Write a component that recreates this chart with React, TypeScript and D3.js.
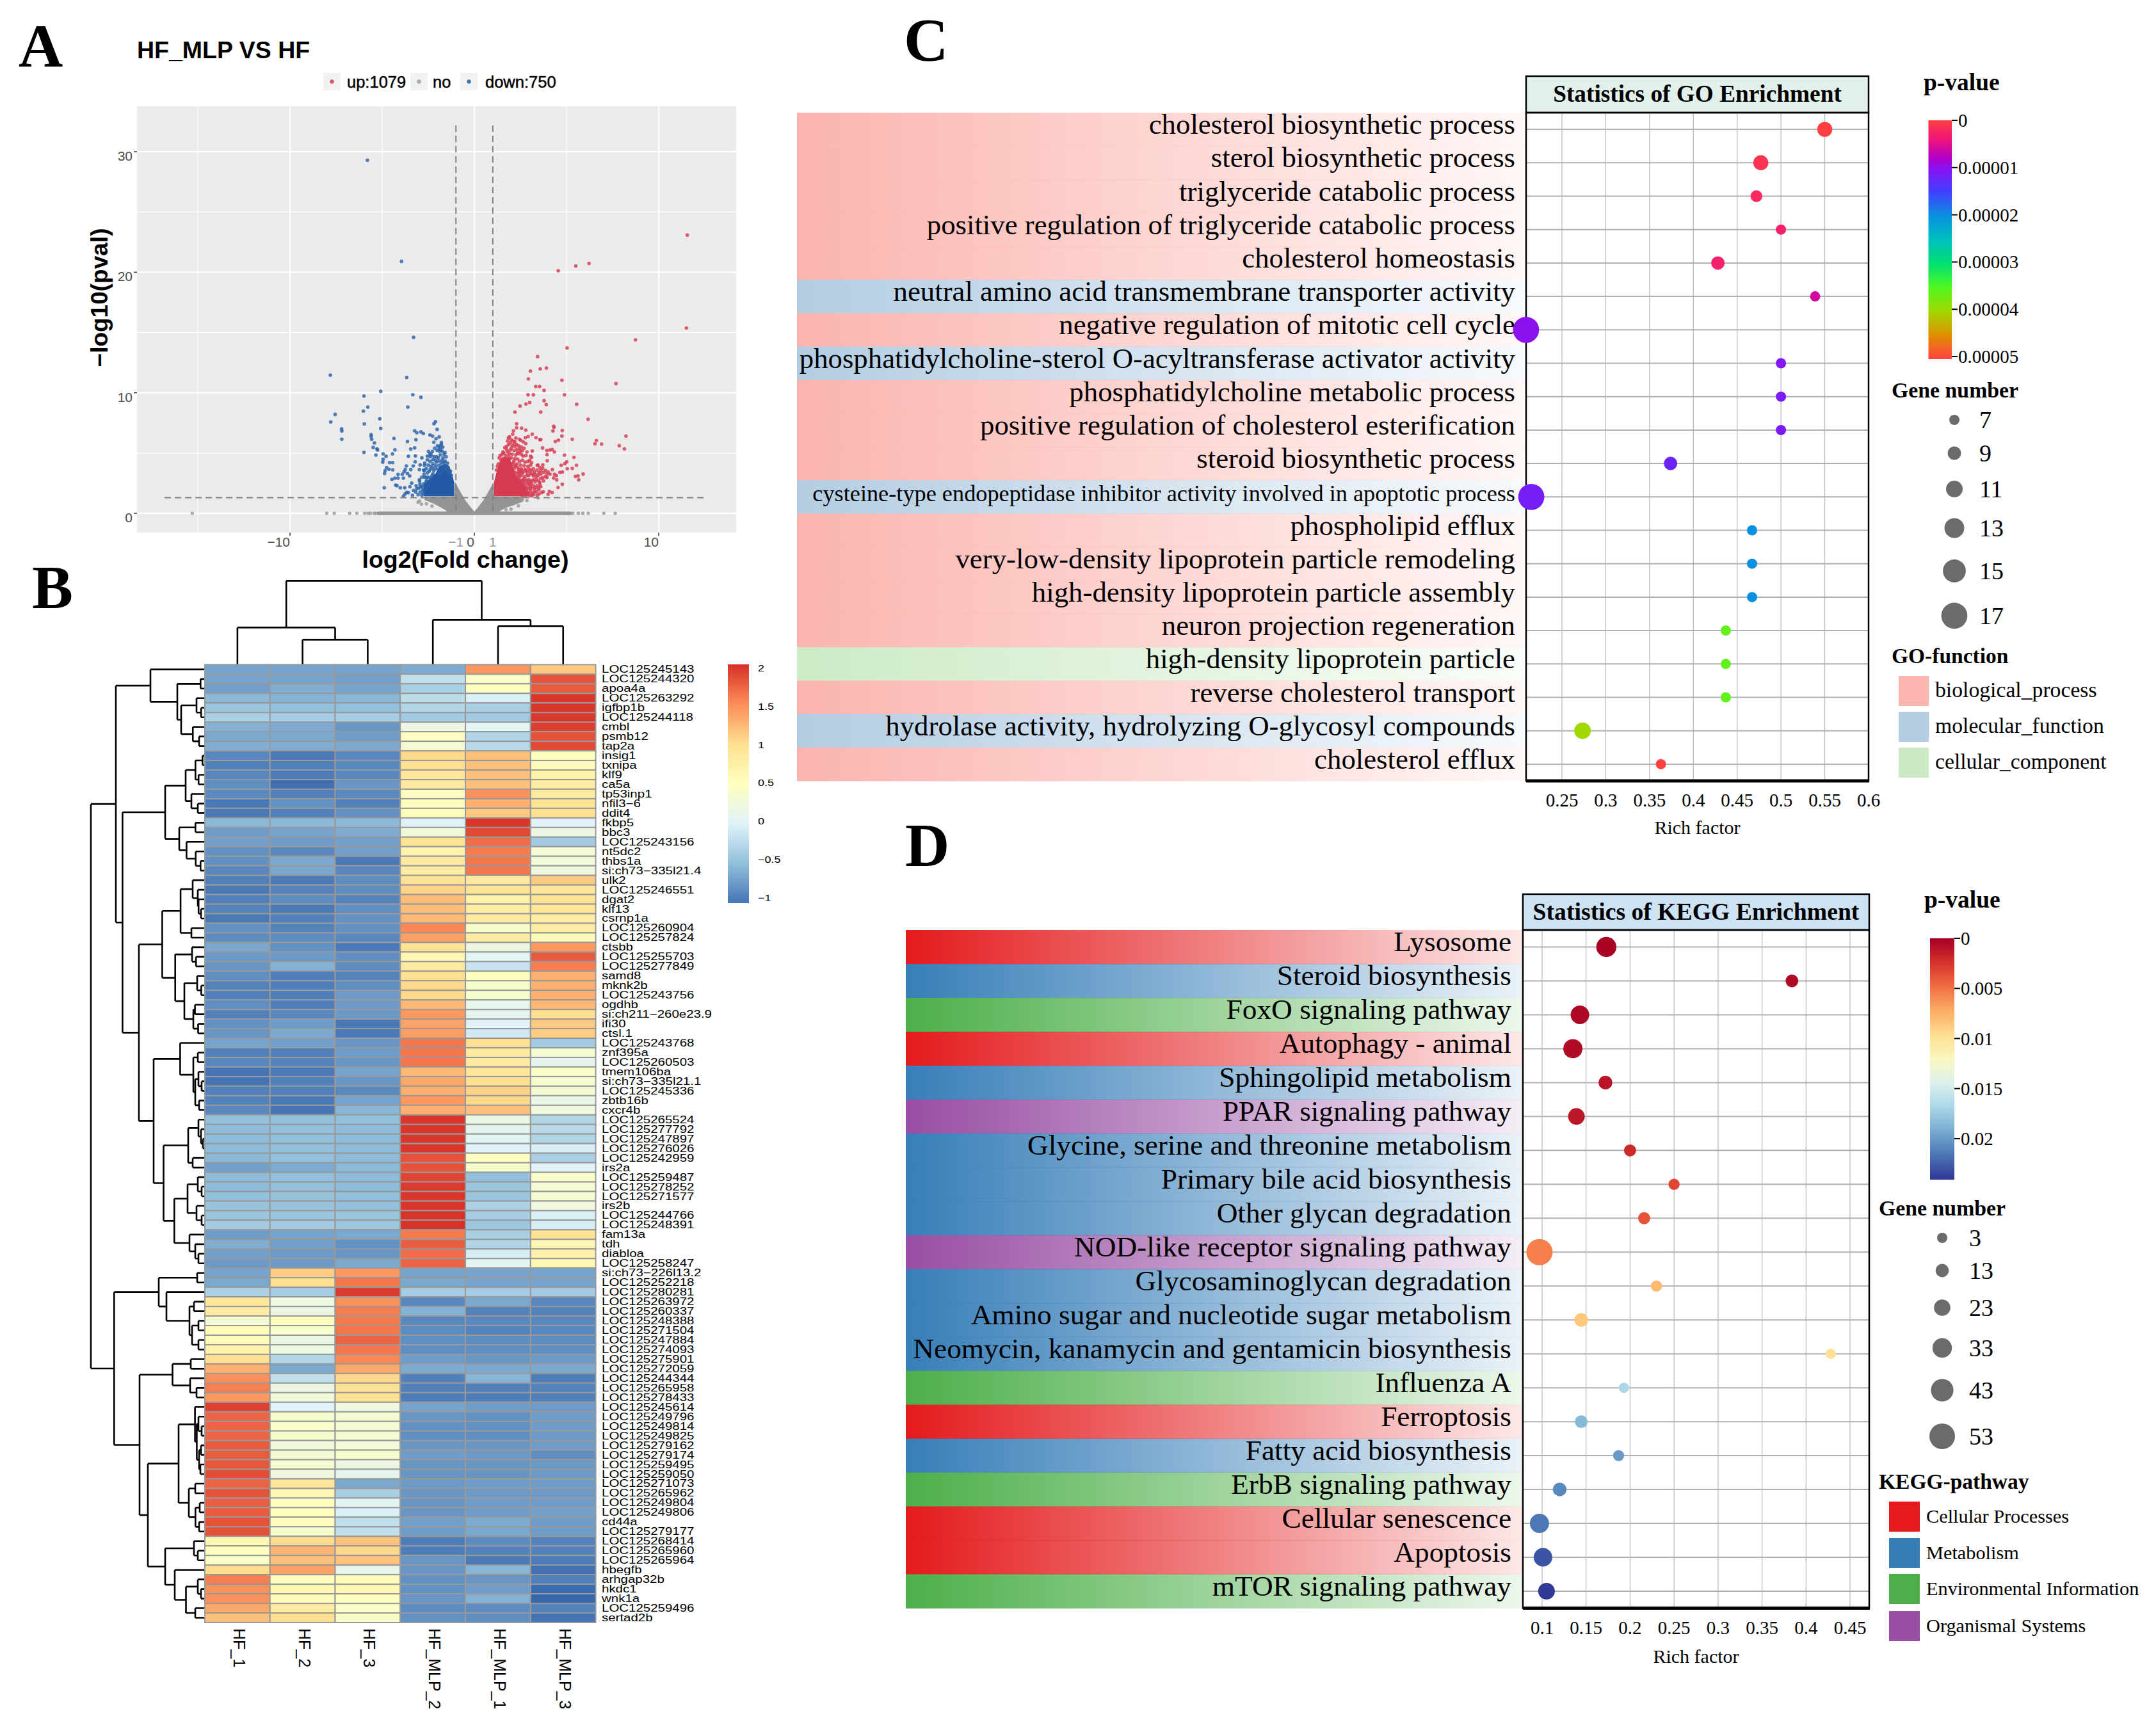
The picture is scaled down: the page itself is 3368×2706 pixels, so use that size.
import React from "react";
import * as d3 from "d3";

const SANS = "'Liberation Sans', Arial, sans-serif";
const SERIF = "'Liberation Serif', 'Times New Roman', serif";

// ---------- panel A: volcano ----------
const volcanoXTicks = [-10, 0, 10];
const volcanoXMinor = [-15, -5, 5];
const volcanoYTicks = [0, 10, 20, 30];
const volcanoYMinor = [5, 15, 25];

const downPoints: [number, number][] = [
  [-5.8, 29.3], [-3.95, 20.9], [-3.3, 14.6],
  [-7.81, 11.47], [-3.67, 11.27], [-5.08, 10.12], [-5.99, 9.73], [-3.34, 9.84], [-2.9, 9.63], [-5.78, 8.81],
  [-6.02, 8.48], [-3.61, 8.81], [-7.55, 8.21], [-7.79, 7.58], [-5.13, 7.84], [-5.97, 7.42], [-5.08, 7.04],
  [-7.2, 7.01], [-7.19, 6.83], [-7.19, 6.14], [-5.6, 6.53], [-5.6, 6.37], [-5.57, 6.14], [-5.42, 5.84],
  [-5.49, 5.47], [-5.29, 5.35], [-5.25, 5.26], [-5.99, 5.06], [-5.34, 4.83], [-4.95, 4.94], [-4.79, 4.73],
  [-4.95, 4.48], [-4.97, 4.25], [-4.6, 4.21], [-4.43, 4.21], [-4.44, 4.94], [-4.31, 5.27], [-4.36, 6.21],
  [-3.63, 5.96], [-3.17, 6.11], [-3.24, 6.85], [-3.12, 6.69], [-2.9, 6.76], [-2.77, 6.62], [-2.41, 6.5],
  [-2.27, 6.41], [-1.91, 6.34], [-2.08, 6.18], [-2.2, 5.89], [-2.19, 7.43], [-2.11, 7.61], [-2.02, 6.97],
  [-3.24, 5.43], [-3.45, 5.33], [-3.58, 4.73], [-3.2, 4.76], [-2.85, 4.6], [-3.21, 4.27], [-3.32, 3.93],
  [-3.69, 3.93], [-2.94, 4.02], [-2.69, 4.16], [-2.71, 3.98], [-4.76, 3.79], [-4.63, 3.65], [-4.43, 3.61],
  [-4.84, 3.54], [-4.87, 3.31], [-3.75, 3.63], [-3.81, 3.45], [-3.45, 3.63], [-3.91, 3.24], [-3.63, 3.31],
  [-3.51, 3.1], [-4.14, 3.22], [-4.31, 2.92], [-4.47, 2.81], [-4.14, 2.92], [-3.85, 2.92], [-4.89, 2.12],
  [-4.27, 2.34], [-4.2, 2.3], [-4.02, 2.12], [-3.78, 2.12], [-3.67, 1.73], [-3.58, 1.72], [-3.77, 1.59],
  [-3.85, 1.42], [-3.36, 1.5], [-3.16, 2.28], [-3.12, 2.04], [-3.18, 1.77], [-2.94, 1.77], [-2.89, 2.21],
  [-2.98, 2.78], [-2.97, 2.65], [-2.73, 3.24], [-2.69, 3.0], [-2.59, 2.74], [-2.39, 2.92], [-2.25, 3.27],
  [-2.39, 3.66], [-2.23, 3.77], [-2.98, 3.63], [-2.72, 3.54], [-2.61, 3.72], [-2.49, 5.13], [-2.41, 4.96],
  [-2.28, 5.13], [-2.06, 4.69], [-1.92, 4.34], [-2.06, 4.25], [-1.92, 3.98], [-1.79, 4.16], [-1.72, 3.81],
  [-1.53, 4.69], [-1.59, 5.04], [-1.83, 5.31], [-1.72, 5.49], [-1.79, 5.72], [-1.92, 5.4], [-2.02, 5.22],
  [-2.19, 4.69], [-1.59, 4.34], [-1.46, 4.16], [-1.49, 3.89], [-1.88, 3.63], [-1.66, 3.54], [-1.86, 3.27],
  [-1.79, 5.88], [-2.4, 4.7], [-2.25, 4.45], [-2.1, 3.95], [-1.6, 3.95], [-2.45, 2.3], [-2.6, 2.05], [-2.75, 1.9],
];
const downCrowded: [number, number][] = [
  [-2.62, 2.6], [-2.5, 3.0], [-2.55, 3.35], [-2.45, 3.5], [-2.3, 3.1], [-2.35, 3.9], [-2.2, 3.55], [-2.05, 3.7],
  [-2.5, 4.0], [-2.4, 4.3], [-2.25, 4.1], [-2.1, 4.4], [-1.95, 4.6], [-1.85, 4.85], [-1.7, 4.6], [-1.65, 4.2],
  [-1.75, 4.4], [-1.55, 3.7], [-1.45, 3.55], [-1.4, 3.3], [-1.3, 3.5], [-1.25, 3.15], [-2.15, 5.4], [-2.0, 5.6],
  [-1.85, 5.6], [-1.9, 5.15], [-1.75, 5.15], [-1.65, 4.9], [-2.35, 4.85], [-2.55, 4.75], [-2.55, 4.45], [-2.75, 2.45],
  [-2.82, 2.2], [-2.8, 1.95], [-2.78, 1.65], [-2.95, 2.4], [-3.0, 2.1], [-3.05, 1.55], [-2.85, 1.5], [-3.3, 1.9],
  [-3.4, 2.5], [-3.5, 2.2], [-2.75, 3.6], [-2.85, 3.0], [-2.6, 3.0],
];

const upPoints: [number, number][] = [
  [11.55, 23.08], [6.22, 20.73], [5.5, 20.52], [4.55, 20.12], [11.5, 15.37], [8.74, 14.39], [5.03, 13.72],
  [3.43, 13.0], [3.57, 11.99], [3.91, 12.05], [3.04, 11.8], [2.93, 11.15], [4.75, 11.04], [7.68, 10.76],
  [3.33, 10.52], [3.54, 10.52], [3.78, 10.2], [2.91, 9.83], [3.2, 9.83], [4.89, 9.83], [3.78, 9.35], [3.9, 9.02],
  [2.8, 9.07], [3.0, 9.2], [2.48, 8.9], [5.55, 9.05], [6.17, 7.8], [2.2, 8.4], [3.6, 8.4],
  [8.22, 6.41], [6.54, 5.77], [6.62, 6.04], [6.9, 5.75], [7.86, 5.61], [8.14, 5.35], [5.31, 6.14], [4.75, 6.41],
  [4.77, 6.87], [4.3, 7.22], [4.32, 7.13], [4.26, 6.83], [4.56, 6.07], [4.39, 5.96], [3.7, 5.42], [3.93, 5.22],
  [4.1, 5.26], [4.22, 5.29], [4.34, 5.1], [3.94, 4.87], [4.89, 4.83], [5.4, 4.64], [5.01, 4.27], [4.91, 4.12],
  [4.71, 3.98], [5.54, 3.98], [5.04, 3.7], [5.31, 3.73], [4.77, 3.43], [4.64, 3.4], [5.9, 3.26], [5.62, 3.1],
  [5.48, 3.06], [5.66, 2.78], [4.23, 3.63], [3.93, 3.27], [4.77, 2.41], [4.54, 2.14], [4.22, 1.72], [4.07, 1.82],
  [4.0, 1.58], [3.74, 1.79], [3.65, 1.72], [3.14, 6.57], [3.34, 6.28], [3.55, 6.12], [3.6, 6.12], [2.79, 6.9],
  [2.56, 7.06], [2.29, 7.43], [2.29, 7.1], [2.12, 6.85], [2.08, 6.57], [2.92, 6.37], [2.76, 6.28], [2.44, 6.14],
  [2.52, 6.05], [2.79, 5.79], [2.65, 5.93], [3.14, 5.17], [2.85, 5.1], [3.05, 4.74], [3.95, 4.37], [3.41, 3.98],
  [3.71, 4.02], [1.9, 6.35], [2.0, 6.1], [2.1, 6.0], [1.95, 5.85], [2.2, 5.95], [2.05, 5.6], [2.2, 5.55], [2.3, 5.7],
  [1.75, 5.3], [1.8, 5.1], [1.95, 5.25], [2.15, 5.2], [2.3, 5.3], [2.45, 5.35], [2.55, 5.5], [2.7, 5.4], [1.7, 4.8],
  [1.85, 4.75], [2.05, 4.9], [2.25, 4.85], [2.4, 4.95], [2.55, 4.9], [2.65, 4.75], [2.8, 4.8], [3.1, 4.65],
  [1.55, 4.55], [1.7, 4.45], [1.9, 4.5], [2.15, 4.35], [2.35, 4.5], [2.45, 4.3], [2.6, 4.4], [2.75, 4.25], [2.9, 4.3],
  [3.0, 4.4], [3.1, 4.2], [3.45, 4.0], [1.6, 4.1], [1.85, 4.1], [2.05, 4.05], [2.3, 4.1], [2.5, 4.0], [2.7, 3.95],
  [2.9, 3.9], [3.05, 4.0], [1.7, 3.75], [1.95, 3.8], [2.15, 3.7], [2.35, 3.8], [2.55, 3.7], [2.75, 3.65], [2.95, 3.7],
  [3.2, 3.7], [3.4, 3.6], [3.6, 3.55], [3.7, 3.75], [3.55, 3.8], [1.8, 3.4], [2.0, 3.5], [2.2, 3.4], [2.4, 3.45],
  [2.6, 3.3], [2.85, 3.4], [3.05, 3.3], [3.25, 3.45], [3.5, 3.35], [1.9, 3.1], [2.1, 3.15], [2.3, 3.05], [2.5, 3.1],
  [2.7, 3.05], [2.95, 3.15], [3.2, 3.1], [3.35, 3.05], [4.1, 3.25], [4.35, 3.23], [4.45, 3.13], [3.93, 2.98],
  [4.3, 2.93], [4.47, 2.78], [1.95, 2.85], [2.15, 2.8], [2.35, 2.85], [2.55, 2.75], [2.75, 2.85], [2.95, 2.8],
  [3.15, 2.75], [3.4, 2.8], [3.6, 2.9], [3.75, 2.7], [2.05, 2.55], [2.3, 2.6], [2.5, 2.5], [2.7, 2.6], [2.9, 2.55],
  [3.1, 2.5], [3.3, 2.6], [3.55, 2.55], [2.2, 2.3], [2.4, 2.25], [2.6, 2.3], [2.8, 2.2], [3.0, 2.35], [3.2, 2.3],
  [3.4, 2.3], [3.55, 2.35], [2.45, 2.0], [2.65, 2.05], [2.85, 1.95], [3.05, 2.05], [3.25, 2.0], [3.45, 2.1],
  [2.5, 1.7], [2.75, 1.75], [2.95, 1.7], [3.15, 1.65], [3.35, 1.8], [2.6, 1.5], [2.8, 1.5], [3.0, 1.5],
];
const upCrowded: [number, number][] = [
  [1.35, 4.6], [1.5, 4.9], [1.6, 5.0], [1.75, 5.55], [1.85, 5.7], [1.65, 5.45], [1.55, 5.1], [1.45, 4.4], [1.3, 4.1],
  [1.2, 3.6], [1.25, 3.9], [1.4, 4.8], [1.8, 6.0], [1.85, 6.25], [2.25, 6.25], [2.15, 5.75], [2.4, 5.6], [2.35, 5.05],
  [2.5, 5.15], [2.6, 5.2], [2.0, 5.4], [1.9, 4.95], [2.0, 4.6], [2.2, 4.55], [2.1, 4.2], [2.25, 4.0], [2.4, 3.65],
  [2.5, 3.45], [2.2, 3.9], [2.35, 3.3], [2.45, 3.2], [2.55, 3.55], [2.65, 3.45], [2.8, 3.55], [2.85, 3.15], [3.0, 3.5],
  [3.1, 3.6], [3.15, 3.25], [3.3, 3.25], [3.45, 3.15], [3.6, 3.25], [3.75, 3.4], [3.85, 3.55], [4.0, 3.45], [3.85, 3.05],
  [3.7, 2.95], [3.5, 2.65], [3.25, 2.8], [3.05, 2.65], [2.85, 2.7], [2.65, 2.8], [2.45, 2.7], [2.4, 2.95], [2.6, 2.55],
  [2.75, 2.4], [2.95, 2.4], [3.1, 2.2], [3.3, 2.15], [3.5, 1.95], [3.6, 2.2], [2.95, 2.1], [2.75, 2.05], [2.55, 2.2],
  [2.45, 1.85], [2.65, 1.8], [2.85, 1.75], [3.05, 1.85], [3.2, 1.55], [3.4, 1.5], [3.25, 1.75], [3.1, 1.45], [2.9, 1.6],
  [2.7, 1.55], [3.5, 1.6],
];

// outline of the solid clouds, as far as they can be followed on the picture
const greyCloud: [number, number][] = [
  [-1.05, 2.6], [-0.8, 1.9], [-0.5, 1.1], [-0.2, 0.5], [0, 0.15], [0.2, 0.5], [0.5, 1.1], [0.8, 1.9], [1.05, 2.6],
  [1.07, 1.4], [2.7, 1.4], [2.6, 0.95], [2.2, 0.7], [1.7, 0.45], [1.4, 0.2], [1.3, 0], [-1.4, 0], [-1.6, 0.3],
  [-2.2, 0.8], [-2.7, 1.1], [-2.68, 1.4], [-1.07, 1.4],
];
const blueCloud: [number, number][] = [
  [-2.75, 1.42], [-2.75, 2.4], [-2.4, 2.9], [-2.1, 3.3], [-1.9, 3.9], [-1.6, 4.1], [-1.35, 3.9], [-1.15, 2.9],
  [-1.09, 2.5], [-1.09, 1.42],
];
const redCloud: [number, number][] = [
  [1.07, 1.42], [1.07, 2.6], [1.2, 3.4], [1.35, 4.2], [1.6, 4.7], [1.9, 4.6], [2.1, 3.8], [2.3, 3.0], [2.7, 2.3],
  [2.95, 1.42],
];
const greyStrip = [-5.2, 5.2];
const greyPoints: [number, number][] = [
  [-15.3, 0], [-8.01, 0], [-7.6, 0], [-6.76, 0], [-6.37, 0], [-5.95, 0], [-5.77, 0], [-5.64, 0], [-5.44, 0], [-5.34, 0],
  [5.34, 0], [5.64, 0], [5.88, 0], [6.18, 0], [7.02, 0], [7.64, 0],
  [-2.98, 1.03], [-2.87, 0.76], [-3.05, 0.92], [-2.6, 0.8], [-2.3, 0.6], [2.85, 1.06], [3.45, 1.27], [2.39, 0.62],
  [1.99, 0.35], [1.72, 0.3], [2.6, 1.1],
];
const volcanoLegend = [
  { label: "up:1079", color: "#d9566a", keyX: 505, textX: 542 },
  { label: "no", color: "#aaaaaa", keyX: 641, textX: 676 },
  { label: "down:750", color: "#4477b0", keyX: 719, textX: 758 },
];

// ---------- panel B: heatmap ----------
const heatColumns = ["HF_1", "HF_2", "HF_3", "HF_MLP_2", "HF_MLP_1", "HF_MLP_3"];
const heatRows = [
  "LOC125245143", "LOC125244320", "apoa4a", "LOC125263292", "igfbp1b", "LOC125244118", "cmbl", "psmb12", "tap2a",
  "insig1", "txnipa", "klf9", "ca5a", "tp53inp1", "nfil3\u22126", "ddit4", "fkbp5", "bbc3", "LOC125243156", "nt5dc2",
  "thbs1a", "si:ch73\u2212335l21.4", "ulk2", "LOC125246551", "dgat2", "klf13", "csrnp1a", "LOC125260904",
  "LOC125257824", "ctsbb", "LOC125255703", "LOC125277849", "samd8", "mknk2b", "LOC125243756", "ogdhb",
  "si:ch211\u2212260e23.9", "ifi30", "ctsl.1", "LOC125243768", "znf395a", "LOC125260503", "tmem106ba",
  "si:ch73\u2212335l21.1", "LOC125245336", "zbtb16b", "cxcr4b", "LOC125265524", "LOC125277792", "LOC125247897",
  "LOC125276026", "LOC125242959", "irs2a", "LOC125259487", "LOC125278252", "LOC125271577", "irs2b", "LOC125244766",
  "LOC125248391", "fam13a", "tdh", "diabloa", "LOC125258247", "si:ch73\u2212226l13.2", "LOC125252218", "LOC125280281",
  "LOC125263972", "LOC125260337", "LOC125248388", "LOC125271504", "LOC125247884", "LOC125274093", "LOC125275901",
  "LOC125272059", "LOC125244344", "LOC125265958", "LOC125278433", "LOC125245614", "LOC125249796", "LOC125249814",
  "LOC125249825", "LOC125279162", "LOC125279174", "LOC125259495", "LOC125259050", "LOC125271073", "LOC125265962",
  "LOC125249804", "LOC125249806", "cd44a", "LOC125279177", "LOC125268414", "LOC125265960", "LOC125265964", "hbegfb",
  "arhgap32b", "hkdc1", "wnk1a", "LOC125259496", "sertad2b",
];
const heatValues: number[][] = [
  [-0.75, -0.75, -0.75, -0.7, 1.45, 1.15], [-0.75, -0.75, -0.78, -0.25, 0.4, 1.85], [-0.78, -0.68, -0.75, -0.4, 0.48, 1.8],
  [-0.6, -0.65, -0.62, -0.28, -0.08, 2.0], [-0.5, -0.55, -0.55, -0.35, -0.4, 2.0], [-0.4, -0.42, -0.42, -0.45, -0.45, 2.0],
  [-0.65, -0.7, -0.85, 0.15, 0.0, 1.95], [-0.72, -0.72, -0.8, 0.45, -0.35, 1.85], [-0.68, -0.68, -0.72, 0.3, -0.3, 1.9],
  [-0.95, -1.05, -0.95, 1.05, 1.2, 0.48], [-1.0, -1.0, -0.95, 1.0, 1.2, 0.55], [-0.95, -1.03, -0.95, 0.9, 1.2, 0.7],
  [-0.9, -1.12, -0.85, 0.85, 1.2, 0.8], [-0.95, -1.0, -0.95, 0.45, 1.5, 0.8], [-1.05, -0.88, -1.0, 0.5, 1.3, 0.95],
  [-1.05, -1.0, -0.88, 0.52, 1.15, 0.98], [-0.6, -0.6, -0.6, -0.05, 2.0, -0.05], [-0.8, -0.75, -0.7, 0.25, 1.9, 0.15],
  [-0.78, -0.8, -0.78, 0.95, 1.7, -0.45], [-0.88, -0.95, -0.78, 0.7, 1.62, 0.28], [-0.88, -0.72, -1.05, 0.85, 1.65, 0.25],
  [-0.95, -0.72, -0.95, 0.8, 1.65, 0.2], [-1.0, -1.03, -0.92, 0.98, 0.85, 1.15], [-1.05, -0.98, -0.92, 1.08, 0.95, 0.9],
  [-1.0, -0.92, -0.98, 1.22, 0.7, 0.95], [-0.98, -1.05, -0.9, 1.22, 0.8, 0.9], [-1.05, -1.0, -0.88, 1.25, 0.82, 0.8],
  [-0.88, -0.98, -0.88, 1.55, 0.35, 0.8], [-0.92, -0.92, -0.95, 1.4, 0.8, 0.55], [-0.72, -0.88, -1.05, 0.95, 0.15, 1.45],
  [-0.82, -0.82, -0.9, 0.62, 0.0, 1.8], [-0.85, -0.65, -0.92, 0.85, -0.2, 1.6], [-0.9, -1.02, -0.98, 1.0, 0.5, 1.3],
  [-0.98, -1.02, -0.9, 1.05, 0.35, 1.3], [-1.0, -1.02, -0.82, 1.05, 0.35, 1.3], [-0.9, -1.02, -0.82, 1.25, 0.08, 1.25],
  [-1.0, -0.95, -0.82, 1.45, 0.02, 1.0], [-0.88, -0.8, -1.05, 1.38, -0.02, 1.15], [-0.85, -0.72, -1.05, 1.42, -0.15, 1.12],
  [-0.75, -0.78, -0.85, 1.65, 1.0, -0.45], [-1.0, -1.0, -0.8, 1.65, 0.85, 0.3], [-0.95, -0.98, -0.85, 1.65, 0.85, 0.05],
  [-1.08, -1.05, -0.75, 1.25, 0.9, 0.42], [-1.08, -1.0, -0.85, 1.35, 1.0, 0.35], [-1.0, -1.0, -0.95, 1.3, 1.08, 0.3],
  [-0.98, -1.05, -0.75, 1.45, 1.05, 0.12], [-0.95, -1.08, -0.62, 1.3, 1.2, 0.2], [-0.55, -0.55, -0.55, 2.0, 0.15, -0.35],
  [-0.58, -0.55, -0.58, 2.0, 0.05, -0.3], [-0.58, -0.55, -0.58, 2.0, 0.0, -0.35], [-0.58, -0.55, -0.58, 2.0, -0.05, -0.1],
  [-0.6, -0.55, -0.58, 1.85, 0.48, -0.4], [-0.78, -0.7, -0.6, 1.85, 0.35, -0.05], [-0.58, -0.55, -0.58, 1.92, -0.55, 0.4],
  [-0.58, -0.55, -0.58, 1.98, -0.5, 0.3], [-0.55, -0.52, -0.55, 2.0, -0.5, 0.32], [-0.52, -0.52, -0.55, 2.0, -0.38, 0.2],
  [-0.5, -0.5, -0.5, 2.02, -0.42, -0.08], [-0.45, -0.45, -0.48, 2.03, -0.48, -0.1], [-0.8, -0.75, -0.72, 1.62, -0.4, 0.95],
  [-0.68, -0.78, -0.88, 1.78, -0.35, 0.6], [-0.78, -0.82, -0.85, 1.7, -0.1, 0.72], [-0.82, -0.82, -0.72, 1.75, 0.0, 0.6],
  [-0.75, 1.12, 1.45, -0.75, -0.75, -0.75], [-0.72, 1.0, 1.65, -0.72, -0.75, -0.75], [-0.38, -0.42, 1.98, -0.42, -0.42, -0.45],
  [0.88, 0.18, 1.5, -0.95, -0.72, -0.95], [0.8, 0.15, 1.6, -0.65, -0.98, -0.98], [0.3, 0.5, 1.62, -0.95, -0.95, -0.95],
  [0.55, 0.35, 1.65, -0.92, -0.98, -0.95], [0.55, 0.15, 1.75, -0.9, -0.92, -0.92], [0.7, 0.18, 1.65, -0.9, -0.9, -0.9],
  [1.0, -0.35, 1.55, -0.8, -0.85, -0.82], [1.3, -0.72, 1.35, -0.7, -0.72, -0.72], [1.5, -0.25, 1.05, -1.0, -0.62, -1.02],
  [1.6, 0.15, 0.95, -1.0, -1.0, -0.98], [1.45, 0.25, 1.0, -1.02, -1.02, -1.0], [1.95, -0.05, 0.2, -0.75, -0.8, -0.8],
  [1.75, 0.35, 0.3, -0.85, -0.88, -0.8], [1.75, 0.38, 0.3, -0.88, -0.88, -0.8], [1.75, 0.35, 0.3, -0.9, -0.9, -0.82],
  [1.8, 0.25, 0.28, -0.85, -0.85, -0.8], [1.8, 0.3, 0.35, -0.8, -0.82, -0.9], [1.82, 0.32, 0.15, -0.85, -0.85, -0.82],
  [1.88, 0.2, 0.05, -0.85, -0.85, -0.82], [1.75, 0.9, -0.72, -0.82, -0.8, -0.8], [1.85, 0.6, -0.4, -0.85, -0.82, -0.82],
  [1.78, 0.48, 0.0, -0.85, -0.8, -0.8], [1.8, 0.48, -0.08, -0.85, -0.8, -0.78], [1.85, 0.5, -0.25, -0.78, -0.7, -0.8],
  [1.85, 0.35, -0.25, -0.8, -0.72, -0.8], [0.62, 1.02, 1.18, -1.02, -0.92, -0.98], [0.48, 1.28, 1.05, -1.02, -0.98, -0.98],
  [0.42, 1.2, 1.18, -0.85, -1.05, -1.03], [1.02, 1.38, 0.08, -0.85, -0.62, -1.1], [1.6, 0.5, 0.55, -0.88, -0.85, -1.0],
  [1.5, 0.62, 0.6, -0.88, -0.8, -1.15], [1.5, 0.55, 0.48, -0.85, -0.65, -1.18], [1.35, 0.8, 0.42, -0.92, -0.92, -0.98],
  [1.2, 1.0, 0.4, -0.88, -0.9, -1.08],
];
const heatColors = ["#4575B4", "#91BFDB", "#E0F3F8", "#FFFFBF", "#FEE090", "#FC8D59", "#D73027"];
const heatLegendTicks = [2, 1.5, 1, 0.5, 0, -0.5, -1];

// dendrograms: [height, left, right], 0 is a leaf
type Tree = 0 | [number, Tree, Tree];
const columnTree: Tree = [131, [58, 0, [39, 0, 0]], [70, 0, [60, 0, 0]]];
const rowsOneToNine: Tree = [85, 0, [43, [6.7, 0, 0], [37, [13, 0, [5.8, 0, 0]], [18.75, 0, [9, 0, 0]]]]];
const rowsTenTo22: Tree = [62,
  [30, [14.7, [3.6, 0, 0], [9.8, 0, 0]], [21, 0, [11, 0, 0]]],
  [40, [14.7, 0, 0], [28.6, 0, [14.3, 0, [6.7, 0, 0]]]]];
const rows23To39: Tree = [66.6,
  [37.9, [19, 0, [11, 0, [9.8, 0, [6, 0, 0]]]], [21, 0, 0]],
  [46.3, [20, 0, [13.8, 0, 0]], [32, [12, 0, [5.6, 0, 0]], [18, [15.4, 0, 0], [10.5, 0, 0]]]]];
const rows40To63: Tree = [80,
  [38.6, 0, [18, [11, 0, 0], [15, [10, 0, [5, 0, 0]], [9, 0, 0]]]],
  [64.5, [26, [10, 0, [6, 0, [3, 0, 0]]], [19, 0, 0]],
    [47.7, [27, [11, 0, [5, 0, 0]], [13, 0, [5, 0, 0]]], [24, 0, [15, 0, [10, 0, 0]]]]]];
const rows64To72: Tree = [72, [12, 0, 0], [60, 0, [24, [17, 0, 0], [20, [10, 0, 0], [10, 0, 0]]]]];
const rows73To100: Tree = [102,
  [50.5, [22, 0, 0], [23, 0, [13, 0, 0]]],
  [89,
    [41, [15.4, 0, [12.6, [10, 0, [5, 0, 0]], [9, [6, 0, 0], [7, 0, 0]]]], [25, [15, 0, 0], [14.7, [8, 0, 0], [9, 0, 0]]]],
    [62, [17, 0, [11, 0, 0]], [47, 0, [29.5, [11, 0, [6, 0, 0]], [15, 0, 0]]]]]];
const rowTree: Tree = [178,
  [139, rowsOneToNine, [128.6, rowsTenTo22, [103, rows23To39, rows40To63]]],
  [141.7, rows64To72, rows73To100]];

// ---------- panel C: GO ----------
const goTerms = [
  "cholesterol biosynthetic process", "sterol biosynthetic process", "triglyceride catabolic process",
  "positive regulation of triglyceride catabolic process", "cholesterol homeostasis",
  "neutral amino acid transmembrane transporter activity", "negative regulation of mitotic cell cycle",
  "phosphatidylcholine-sterol O-acyltransferase activator activity", "phosphatidylcholine metabolic process",
  "positive regulation of cholesterol esterification", "steroid biosynthetic process",
  "cysteine-type endopeptidase inhibitor activity involved in apoptotic process", "phospholipid efflux",
  "very-low-density lipoprotein particle remodeling", "high-density lipoprotein particle assembly",
  "neuron projection regeneration", "high-density lipoprotein particle", "reverse cholesterol transport",
  "hydrolase activity, hydrolyzing O-glycosyl compounds", "cholesterol efflux",
];
const goClass = ["bp", "bp", "bp", "bp", "bp", "mf", "bp", "mf", "bp", "bp", "bp", "mf", "bp", "bp", "bp", "bp", "cc", "bp", "mf", "bp"];
const goRich = [0.55, 0.477, 0.472, 0.5, 0.428, 0.539, 0.209, 0.5, 0.5, 0.5, 0.374, 0.215, 0.467, 0.467, 0.467, 0.437, 0.437, 0.437, 0.2735, 0.363];
const goGenes = [10, 10, 8, 7, 9, 7, 17, 7, 7, 7, 9, 17, 7, 7, 7, 7, 7, 7, 11, 7];
const goP = [0.0000001, 0.000001, 0.000002, 0.000003, 0.000003, 0.000006, 0.00001, 0.0000105, 0.000011, 0.000011, 0.000012, 0.0000115,
  0.00002, 0.00002, 0.00002, 0.000036, 0.000036, 0.000036, 0.00004, 0.00005];
const goTicks = [0.25, 0.3, 0.35, 0.4, 0.45, 0.5, 0.55, 0.6];
const goPTicks = [0, 0.00001, 0.00002, 0.00003, 0.00004, 0.00005];
const goPStopsAt = [0, 0.000004, 0.000008, 0.00001, 0.000015, 0.00002, 0.000025, 0.00003, 0.000035, 0.00004, 0.000045, 0.00005];
const goPStops = ["#ff4040", "#f0147c", "#b000c8", "#8a10f0", "#4040ff", "#0a90e0", "#00c0c0", "#00e070", "#50f820", "#a0d800", "#e09000", "#ff4040"];
const goGeneLegend = [7, 9, 11, 13, 15, 17];
const goClassNames = { bp: "biological_process", mf: "molecular_function", cc: "cellular_component" };
const goClassColors = { bp: "#fbb4ae", mf: "#b3cde3", cc: "#ccebc5" };

// ---------- panel D: KEGG ----------
const keggTerms = [
  "Lysosome", "Steroid biosynthesis", "FoxO signaling pathway", "Autophagy - animal", "Sphingolipid metabolism",
  "PPAR signaling pathway", "Glycine, serine and threonine metabolism", "Primary bile acid biosynthesis",
  "Other glycan degradation", "NOD-like receptor signaling pathway", "Glycosaminoglycan degradation",
  "Amino sugar and nucleotide sugar metabolism", "Neomycin, kanamycin and gentamicin biosynthesis", "Influenza A",
  "Ferroptosis", "Fatty acid biosynthesis", "ErbB signaling pathway", "Cellular senescence", "Apoptosis",
  "mTOR signaling pathway",
];
const keggClass = ["cp", "me", "en", "cp", "me", "or", "me", "me", "me", "or", "me", "me", "me", "en", "cp", "me", "en", "cp", "cp", "en"];
const keggRich = [0.173, 0.384, 0.143, 0.135, 0.172, 0.139, 0.2, 0.25, 0.216, 0.097, 0.23, 0.1445, 0.428, 0.193, 0.1445, 0.187, 0.12, 0.097, 0.101, 0.105];
const keggGenes = [35, 11, 30, 32, 14, 24, 9, 6, 9, 55, 6, 14, 3, 3, 11, 6, 14, 32, 30, 24];
const keggP = [0.0002, 0.0005, 0.0004, 0.0006, 0.001, 0.0012, 0.002, 0.0032, 0.0038, 0.0055, 0.0078, 0.0085, 0.0098, 0.0168, 0.0185, 0.02, 0.0208, 0.0215, 0.023, 0.024];
const keggTicks = [0.1, 0.15, 0.2, 0.25, 0.3, 0.35, 0.4, 0.45];
const keggPTicks = [0, 0.005, 0.01, 0.015, 0.02];
const keggGeneLegend = [3, 13, 23, 33, 43, 53];
const keggClassNames = { cp: "Cellular Processes", me: "Metabolism", en: "Environmental Information", or: "Organismal Systems" };
const keggClassColors = { cp: "#e41a1c", me: "#377eb8", en: "#4daf4a", or: "#984ea3" };

// ---------- helpers ----------
const Letter = ({ x, y, t }: { x: number; y: number; t: string }) => (
  <text x={x} y={y} fontFamily={SERIF} fontWeight="bold" fontSize={96}>{t}</text>
);

function treePath(tree: Tree, pos: (i: number) => number, len: (h: number) => number, horizontal: boolean) {
  const p = d3.path();
  let leaf = 0;
  const seg = (a: number, b: number, c: number, d: number) => {
    if (horizontal) { p.moveTo(b, a); p.lineTo(d, c); } else { p.moveTo(a, b); p.lineTo(c, d); }
  };
  const walk = (t: Tree): { at: number; h: number } => {
    if (t === 0) return { at: pos(leaf++), h: 0 };
    const l = walk(t[1]);
    const r = walk(t[2]);
    seg(l.at, len(l.h), l.at, len(t[0]));
    seg(r.at, len(r.h), r.at, len(t[0]));
    seg(l.at, len(t[0]), r.at, len(t[0]));
    return { at: (l.at + r.at) / 2, h: t[0] };
  };
  walk(tree);
  return p.toString();
}

function Volcano() {
  const x = d3.scaleLinear().domain([-18.3, 14.2]).range([214, 1150]);
  const y = d3.scaleLinear().domain([0, 30]).range([802, 237]);
  const pts = d3.line<[number, number]>().x((d) => x(d[0])).y((d) => y(d[1]));
  const tickCol = "#4d4d4d";
  return (
    <g fontFamily={SANS}>
      <text x={214} y={91} fontSize={37.5} fontWeight="bold">HF_MLP VS HF</text>
      {volcanoLegend.map((k) => (
        <g key={k.label}>
          <rect x={k.keyX} y={114} width={27} height={27} fill="#f2f2f2" />
          <circle cx={k.keyX + 13.5} cy={127.5} r={3.2} fill={k.color} />
          <text x={k.textX} y={137} fontSize={25.5} stroke="#000" strokeWidth={0.5}>{k.label}</text>
        </g>
      ))}
      <rect x={214} y={166} width={936} height={666} fill="#ebebeb" />
      {volcanoXMinor.map((t) => <line key={t} x1={x(t)} x2={x(t)} y1={166} y2={832} stroke="#fff" strokeWidth={1.2} />)}
      {volcanoYMinor.map((t) => <line key={t} y1={y(t)} y2={y(t)} x1={214} x2={1150} stroke="#fff" strokeWidth={1.2} />)}
      {volcanoXTicks.map((t) => <line key={t} x1={x(t)} x2={x(t)} y1={166} y2={832} stroke="#fff" strokeWidth={2.4} />)}
      {volcanoYTicks.map((t) => <line key={t} y1={y(t)} y2={y(t)} x1={214} x2={1150} stroke="#fff" strokeWidth={2.4} />)}
      <path d={pts(greyCloud) + "Z"} fill="#949494" />
      <path d={pts(greyStrip.map((v) => [v, 0])) ?? ""} stroke="#949494" strokeWidth={5.6} strokeLinecap="round" fill="none" />
      {greyPoints.map((d, i) => <circle key={i} cx={x(d[0])} cy={y(d[1])} r={2.7} fill="#999" opacity={0.8} />)}
      <path d={pts(blueCloud) + "Z"} fill="#2259a6" />
      <path d={pts(redCloud) + "Z"} fill="#d73a50" />
      {[...downPoints, ...downCrowded].map((d, i) => <circle key={i} cx={x(d[0])} cy={y(d[1])} r={2.8} fill="#2a62a8" opacity={0.82} />)}
      {[...upPoints, ...upCrowded].map((d, i) => <circle key={i} cx={x(d[0])} cy={y(d[1])} r={2.8} fill="#d63a52" opacity={0.82} />)}
      {[-1, 1].map((t) => <line key={t} x1={x(t)} x2={x(t)} y1={196} y2={y(0.2)} stroke="#808080" strokeWidth={2} strokeDasharray="10 6" />)}
      <line x1={x(-16.8)} x2={x(12.6)} y1={y(1.3)} y2={y(1.3)} stroke="#808080" strokeWidth={2} strokeDasharray="10 6" />
      {volcanoYTicks.map((t) => (
        <g key={t}>
          <line x1={209} x2={214} y1={y(t)} y2={y(t)} stroke="#333" strokeWidth={1.5} />
          <text x={207} y={y(t) + 14} fontSize={21} fill={tickCol} textAnchor="end">{t}</text>
        </g>
      ))}
      {volcanoXTicks.map((t) => (
        <g key={t}>
          <line x1={x(t)} x2={x(t)} y1={832} y2={837} stroke="#333" strokeWidth={1.5} />
          <text x={x(t)} y={854} fontSize={21} fill={tickCol} textAnchor="end">{t === -10 ? "\u221210" : t}</text>
        </g>
      ))}
      <text x={x(-1)} y={854} fontSize={21} fill="#999" textAnchor="middle">{"\u22121"}</text>
      <text x={x(1)} y={854} fontSize={21} fill="#999" textAnchor="middle">1</text>
      <text x={727} y={887} fontSize={37.5} fontWeight="bold" textAnchor="middle">log2(Fold change)</text>
      <text transform="translate(168,465) rotate(-90)" fontSize={37} fontWeight="bold" textAnchor="middle">{"\u2212log10(pval)"}</text>
    </g>
  );
}

function Heatmap() {
  const x = d3.scaleBand<string>().domain(heatColumns).range([320, 930.6]);
  const y = d3.scaleBand<number>().domain(d3.range(heatRows.length)).range([1038.4, 2535]);
  const stepAt = heatColors.map((_, i) => -1.08 + (3.12 * i) / 6);
  const color = d3.scaleLinear<string>().domain(stepAt).range(heatColors);
  const legend = d3.scaleLinear().domain([2, -1]).range([1043.6, 1402]);
  const rowD = treePath(rowTree, (i) => y(i)! + y.bandwidth() / 2, (h) => 320 - h, true);
  const colD = treePath(columnTree, (i) => x(heatColumns[i])! + x.bandwidth() / 2, (h) => 1038.4 - h, false);
  return (
    <g fontFamily={SANS}>
      <defs>
        <linearGradient id="heatLegend" x1="0" x2="0" y1="1" y2="0">
          {heatColors.map((c, i) => <stop key={c} offset={i / 6} stopColor={c} />)}
        </linearGradient>
      </defs>
      <path d={rowD} stroke="#000" strokeWidth={2.6} fill="none" />
      <path d={colD} stroke="#000" strokeWidth={2.6} fill="none" />
      {heatValues.map((row, r) => row.map((v, c) => (
        <rect key={`${r}-${c}`} x={x(heatColumns[c])} y={y(r)} width={x.bandwidth()} height={y.bandwidth()}
          fill={color(v)} stroke="#999" strokeWidth={2} />
      )))}
      {heatRows.map((t, r) => (
        <text key={t + r} transform={`translate(940,${y(r)! + y.bandwidth() / 2 + 5.5}) scale(1.28,1)`} fontSize={16}>{t}</text>
      ))}
      {heatColumns.map((t) => (
        <text key={t} transform={`translate(${x(t)! + x.bandwidth() / 2 - 6},2544) rotate(90)`} fontSize={25}>{t}</text>
      ))}
      <rect x={1137} y={1038} width={33} height={373} fill="url(#heatLegend)" />
      {heatLegendTicks.map((t) => (
        <text key={t} transform={`translate(1184,${legend(t) + 5.5}) scale(1.2,1)`} fontSize={15}>{t < 0 ? "\u2212" + -t : t}</text>
      ))}
    </g>
  );
}

interface EnrichProps {
  id: string;
  title: string;
  titleFill: string;
  titleSize: number;
  terms: string[];
  classes: string[];
  classColors: Record<string, string>;
  classNames: Record<string, string>;
  classLabel: string;
  rich: number[];
  genes: number[];
  p: number[];
  ticks: number[];
  x: d3.ScaleLinear<number, number>;
  left: number;
  right: number;
  stripLeft: number;
  titleTop: number;
  top: number;
  bottom: number;
  labelX: number;
  labelSize: (t: string) => number;
  titleBase: number;
  r: d3.ScaleLinear<number, number>;
  pColor: (v: number) => string;
  pStops: [number, string][];
  pDomain: [number, number];
  pTicks: number[];
  pFmt: (v: number) => string;
  pY: d3.ScaleLinear<number, number>;
  bar: { x: number; w: number; top: number; bottom: number };
  pValueTitle: { x: number; y: number };
  geneTitle: { x: number; y: number };
  geneLegend: number[];
  geneY: number[];
  geneX: number;
  geneTextX: number;
  classTitleY: number;
  classTitleX: number;
  swatch: { x: number; w: number; tops: number[]; h: number; textX: number; size: number };
  tickBase: number;
  richBase: number;
}

function Enrichment(o: EnrichProps) {
  const y = d3.scaleBand<string>().domain(o.terms).range([o.top, o.bottom]);
  const classKeys = Object.keys(o.classColors);
  return (
    <g fontFamily={SERIF}>
      <defs>
        {classKeys.map((k) => (
          <linearGradient key={k} id={`${o.id}-${k}`} x1="0" x2="1" y1="0" y2="0">
            <stop offset="0" stopColor={o.classColors[k]} />
            <stop offset="1" stopColor={o.classColors[k]} stopOpacity={0.1} />
          </linearGradient>
        ))}
        <linearGradient id={`${o.id}-bar`} x1="0" x2="0" y1="0" y2="1">
          {o.pStops.map(([at, c]) => (
            <stop key={at} offset={(at - o.pDomain[0]) / (o.pDomain[1] - o.pDomain[0])} stopColor={c} />
          ))}
        </linearGradient>
      </defs>
      {o.terms.map((t, i) => (
        <rect key={t} x={o.stripLeft} y={y(t)} width={o.left - o.stripLeft} height={y.bandwidth() + 0.5} fill={`url(#${o.id}-${o.classes[i]})`} />
      ))}
      <rect x={o.left} y={o.titleTop} width={o.right - o.left} height={o.top - o.titleTop} fill={o.titleFill} stroke="#000" strokeWidth={2.5} />
      <text x={(o.left + o.right) / 2} y={o.titleBase + 1} fontWeight="bold" fontSize={o.titleSize} textAnchor="middle">{o.title}</text>
      {o.ticks.map((t) => <line key={t} x1={o.x(t)} x2={o.x(t)} y1={o.top} y2={o.bottom} stroke="#b5b5b5" strokeWidth={1.2} />)}
      {o.terms.map((t) => (
        <line key={t} x1={o.left} x2={o.right} y1={y(t)! + y.bandwidth() / 2} y2={y(t)! + y.bandwidth() / 2} stroke="#b0b0b0" strokeWidth={2} />
      ))}
      <rect x={o.left} y={o.top} width={o.right - o.left} height={o.bottom - o.top} fill="none" stroke="#000" strokeWidth={2.5} />
      <line x1={o.left} x2={o.right + 1} y1={o.bottom} y2={o.bottom} stroke="#000" strokeWidth={5} />
      {o.terms.map((t) => (
        <text key={t} x={o.labelX} y={y(t)! + y.bandwidth() / 2 + 7} fontSize={o.labelSize(t)} textAnchor="end">{t}</text>
      ))}
      {o.terms.map((t, i) => (
        <circle key={t} cx={o.x(o.rich[i])} cy={y(t)! + y.bandwidth() / 2} r={o.r(o.genes[i])} fill={o.pColor(o.p[i])} />
      ))}
      {o.ticks.map((t) => (
        <text key={t} x={o.x(t)} y={o.tickBase} fontSize={29} textAnchor="middle">{t}</text>
      ))}
      <text x={(o.left + o.right) / 2} y={o.richBase} fontSize={30} textAnchor="middle">Rich factor</text>

      <text x={o.pValueTitle.x} y={o.pValueTitle.y} fontWeight="bold" fontSize={37.5}>p-value</text>
      <rect x={o.bar.x} y={o.bar.top} width={o.bar.w} height={o.bar.bottom - o.bar.top} fill={`url(#${o.id}-bar)`} />
      {o.pTicks.map((t) => (
        <g key={t}>
          <line x1={o.bar.x + o.bar.w} x2={o.bar.x + o.bar.w + 9} y1={o.pY(t)} y2={o.pY(t)} stroke="#000" strokeWidth={2} />
          <text x={o.bar.x + o.bar.w + 10} y={o.pY(t) + 10} fontSize={29}>{o.pFmt(t)}</text>
        </g>
      ))}

      <text x={o.geneTitle.x} y={o.geneTitle.y} fontWeight="bold" fontSize={33.8}>Gene number</text>
      {o.geneLegend.map((g, i) => (
        <g key={g}>
          <circle cx={o.geneX} cy={o.geneY[i]} r={o.r(g)} fill="#6b6b6b" />
          <text x={o.geneTextX} y={o.geneY[i] + 13} fontSize={38}>{g}</text>
        </g>
      ))}

      <text x={o.classTitleX} y={o.classTitleY} fontWeight="bold" fontSize={33.5}>{o.classLabel}</text>
      {classKeys.map((k, i) => (
        <g key={k}>
          <rect x={o.swatch.x} y={o.swatch.tops[i]} width={o.swatch.w} height={o.swatch.h} fill={o.classColors[k]} />
          <text x={o.swatch.textX} y={o.swatch.tops[i] + o.swatch.h / 2 + 9} fontSize={o.swatch.size}>{o.classNames[k]}</text>
        </g>
      ))}
    </g>
  );
}

export default function App() {
  const goX = d3.scaleLinear().domain([0.25, 0.6]).range([2440, 2919]);
  const goR = d3.scaleLinear().domain([7, 17]).range([8, 20.4]);
  const goColor = d3.scaleLinear<string>().domain(goPStopsAt).range(goPStops);
  const goPY = d3.scaleLinear().domain([0, 0.00005]).range([188, 557]);
  const keggX = d3.scaleLinear().domain([0.1, 0.45]).range([2409, 2890]);
  const keggR = d3.scaleLinear().domain([3, 53]).range([8, 20]);
  const keggColor = (v: number) => d3.interpolateRdYlBu(v / 0.0241);
  const keggPY = d3.scaleLinear().domain([0, 0.02]).range([1466, 1779]);
  return (
    <svg width={3368} height={2706} style={{ position: "absolute", left: 0, top: 0, background: "#fff" }}>
      <Letter x={29} y={104} t="A" />
      <Letter x={50} y={950} t="B" />
      <Letter x={1412} y={95} t="C" />
      <Letter x={1414} y={1353} t="D" />
      <Volcano />
      <Heatmap />
      <Enrichment id="go" title="Statistics of GO Enrichment" titleFill="#e1f0ea" titleSize={37.3} terms={goTerms} classes={goClass}
        classColors={goClassColors} classNames={goClassNames} classLabel="GO-function" rich={goRich} genes={goGenes} p={goP}
        ticks={goTicks} x={goX} left={2384} right={2919} stripLeft={1245} titleTop={119} top={176} bottom={1220} labelX={2367}
        labelSize={(t) => (t.startsWith("cysteine") ? 36.3 : 44.8)} titleBase={158} r={goR} pColor={goColor}
        pStops={goPStopsAt.map((v, i) => [v, goPStops[i]] as [number, string])} pDomain={[0, 0.00005]} pTicks={goPTicks}
        pFmt={(v) => (v === 0 ? "0" : v.toFixed(5))} pY={goPY} bar={{ x: 3012.5, w: 36.5, top: 188, bottom: 561 }}
        pValueTitle={{ x: 3005, y: 141 }} geneTitle={{ x: 2955, y: 621 }} geneLegend={goGeneLegend}
        geneY={[656, 708, 764, 825, 892, 962]} geneX={3053} geneTextX={3092} classTitleY={1036} classTitleX={2955}
        swatch={{ x: 2966, w: 47, tops: [1056, 1112, 1168], h: 47, textX: 3023, size: 33.7 }} tickBase={1260} richBase={1303} />
      <Enrichment id="kegg" title="Statistics of KEGG Enrichment" titleFill="#cde2f2" titleSize={37.7} terms={keggTerms} classes={keggClass}
        classColors={keggClassColors} classNames={keggClassNames} classLabel="KEGG-pathway" rich={keggRich} genes={keggGenes} p={keggP}
        ticks={keggTicks} x={keggX} left={2379} right={2920} stripLeft={1415} titleTop={1397} top={1453} bottom={2512.5} labelX={2361}
        labelSize={() => 45.3} titleBase={1436} r={keggR} pColor={keggColor}
        pStops={d3.range(11).map((i) => [(i / 10) * 0.0241, d3.interpolateRdYlBu(i / 10)] as [number, string])} pDomain={[0, 0.0241]}
        pTicks={keggPTicks} pFmt={(v) => String(v)} pY={keggPY} bar={{ x: 3015, w: 38, top: 1466, bottom: 1843 }}
        pValueTitle={{ x: 3006, y: 1418 }} geneTitle={{ x: 2935, y: 1899 }} geneLegend={keggGeneLegend}
        geneY={[1934, 1985, 2043, 2106, 2172, 2244]} geneX={3034} geneTextX={3076} classTitleY={2326} classTitleX={2935}
        swatch={{ x: 2951, w: 48, tops: [2346, 2403, 2459, 2517], h: 47, textX: 3009, size: 30.3 }} tickBase={2553} richBase={2598} />
    </svg>
  );
}
